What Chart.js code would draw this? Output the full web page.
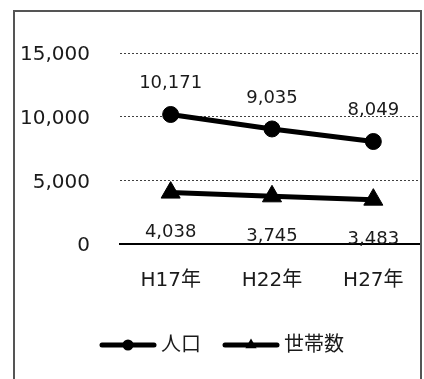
<!DOCTYPE html>
<html><head><meta charset="utf-8">
<script src="https://cdn.jsdelivr.net/npm/chart.js@4"></script>
<style>
html,body{margin:0;padding:0;background:#fff;}
#wrap{position:absolute;left:0;top:0;width:421px;height:379px;overflow:hidden;}
#frame{position:absolute;left:13px;top:10px;width:405px;height:400px;border:2px solid #555;pointer-events:none;}
</style></head><body>
<div id="wrap"><canvas id="c" width="424" height="379"></canvas></div>
<div id="frame"></div>
<script>
const categories = ['H17年', 'H22年', 'H27年'];
const population = [10171, 9035, 8049];
const households = [4038, 3745, 3483];
const seriesNames = ['人口', '世帯数'];
const yTicks = [0, 5000, 10000, 15000];

const FONT = "'DejaVu Sans', 'Noto Sans CJK JP', sans-serif";
const TEXT = '#1a1a1a';

const labelPlugin = {
  id: 'valueLabels',
  afterDatasetsDraw(chart) {
    const ctx = chart.ctx;
    ctx.save();
    ctx.font = '18px ' + FONT;
    ctx.fillStyle = TEXT;
    ctx.textAlign = 'center';
    ctx.textBaseline = 'middle';
    chart.data.datasets.forEach((ds, i) => {
      const meta = chart.getDatasetMeta(i);
      meta.data.forEach((el, j) => {
        ctx.fillText(ds.data[j].toLocaleString('en-US'), el.x, el.y + ds.labelOffset);
      });
    });
    ctx.restore();
  }
};

const legendPlugin = {
  id: 'lineLegend',
  afterDraw(chart) {
    const ctx = chart.ctx;
    ctx.save();
    ctx.font = '20px ' + FONT;
    const lineLen = 56, gap = 5, itemGap = 22;
    const items = chart.data.datasets.map(ds => ({ds, tw: ctx.measureText(ds.label).width}));
    const total = items.reduce((s, it) => s + lineLen + gap + it.tw, 0) + itemGap * (items.length - 1);
    let x = 222 - total / 2;
    const y = 345;
    items.forEach(it => {
      ctx.strokeStyle = it.ds.borderColor;
      ctx.lineWidth = 5;
      ctx.lineCap = 'round';
      ctx.beginPath();
      ctx.moveTo(x + 2, y);
      ctx.lineTo(x + lineLen - 2, y);
      ctx.stroke();
      const cx = x + lineLen / 2;
      ctx.fillStyle = it.ds.pointBackgroundColor;
      ctx.beginPath();
      if (it.ds.pointStyle === 'triangle') {
        const r = 6.5;
        ctx.moveTo(cx, y - r);
        ctx.lineTo(cx + r * 0.866, y + r / 2);
        ctx.lineTo(cx - r * 0.866, y + r / 2);
        ctx.closePath();
      } else {
        ctx.arc(cx, y, 5.5, 0, Math.PI * 2);
      }
      ctx.fill();
      ctx.fillStyle = TEXT;
      ctx.textAlign = 'left';
      ctx.textBaseline = 'middle';
      ctx.fillText(it.ds.label, x + lineLen + gap, y + 1);
      x += lineLen + gap + it.tw + itemGap;
    });
    ctx.restore();
  }
};

new Chart(document.getElementById('c'), {
  type: 'line',
  data: {
    labels: categories,
    datasets: [
      {
        label: seriesNames[0], data: population,
        borderColor: '#000', borderWidth: 5, tension: 0, fill: false,
        pointStyle: 'circle', pointRadius: 8, pointBackgroundColor: '#000',
        pointBorderColor: '#000', pointBorderWidth: 1, labelOffset: -31
      },
      {
        label: seriesNames[1], data: households,
        borderColor: '#000', borderWidth: 5, tension: 0, fill: false,
        pointStyle: 'triangle', pointRadius: 11, pointBackgroundColor: '#000',
        pointBorderColor: '#000', pointBorderWidth: 1, labelOffset: 40
      }
    ]
  },
  options: {
    responsive: false,
    animation: false,
    devicePixelRatio: 1,
    layout: { autoPadding: false, padding: { left: 20, top: 53, right: 0, bottom: 86 } },
    plugins: { legend: { display: false }, tooltip: { enabled: false } },
    scales: {
      x: {
        offset: true,
        grid: { display: false, drawTicks: false },
        border: { display: true, color: '#000', width: 2 },
        ticks: { font: { family: FONT, size: 20 }, color: TEXT, padding: 25 },
        afterFit: s => { s.paddingLeft = 0; s.paddingRight = 0; s.height -= s.options.ticks.padding; }
      },
      y: {
        min: 0, max: 15000,
        afterBuildTicks: axis => { axis.ticks = yTicks.map(v => ({value: v})); },
        afterFit: s => { s.width -= s.options.ticks.padding; },
        grid: {
          drawTicks: false, lineWidth: 1,
          color: c => (c.tick && c.tick.value === 0) ? 'rgba(0,0,0,0)' : '#404040'
        },
        border: { display: false, dash: [2, 2] },
        ticks: { font: { family: FONT, size: 20 }, color: TEXT, padding: 30, labelOffset: 2 }
      }
    }
  },
  plugins: [labelPlugin, legendPlugin]
});
</script>
</body></html>
